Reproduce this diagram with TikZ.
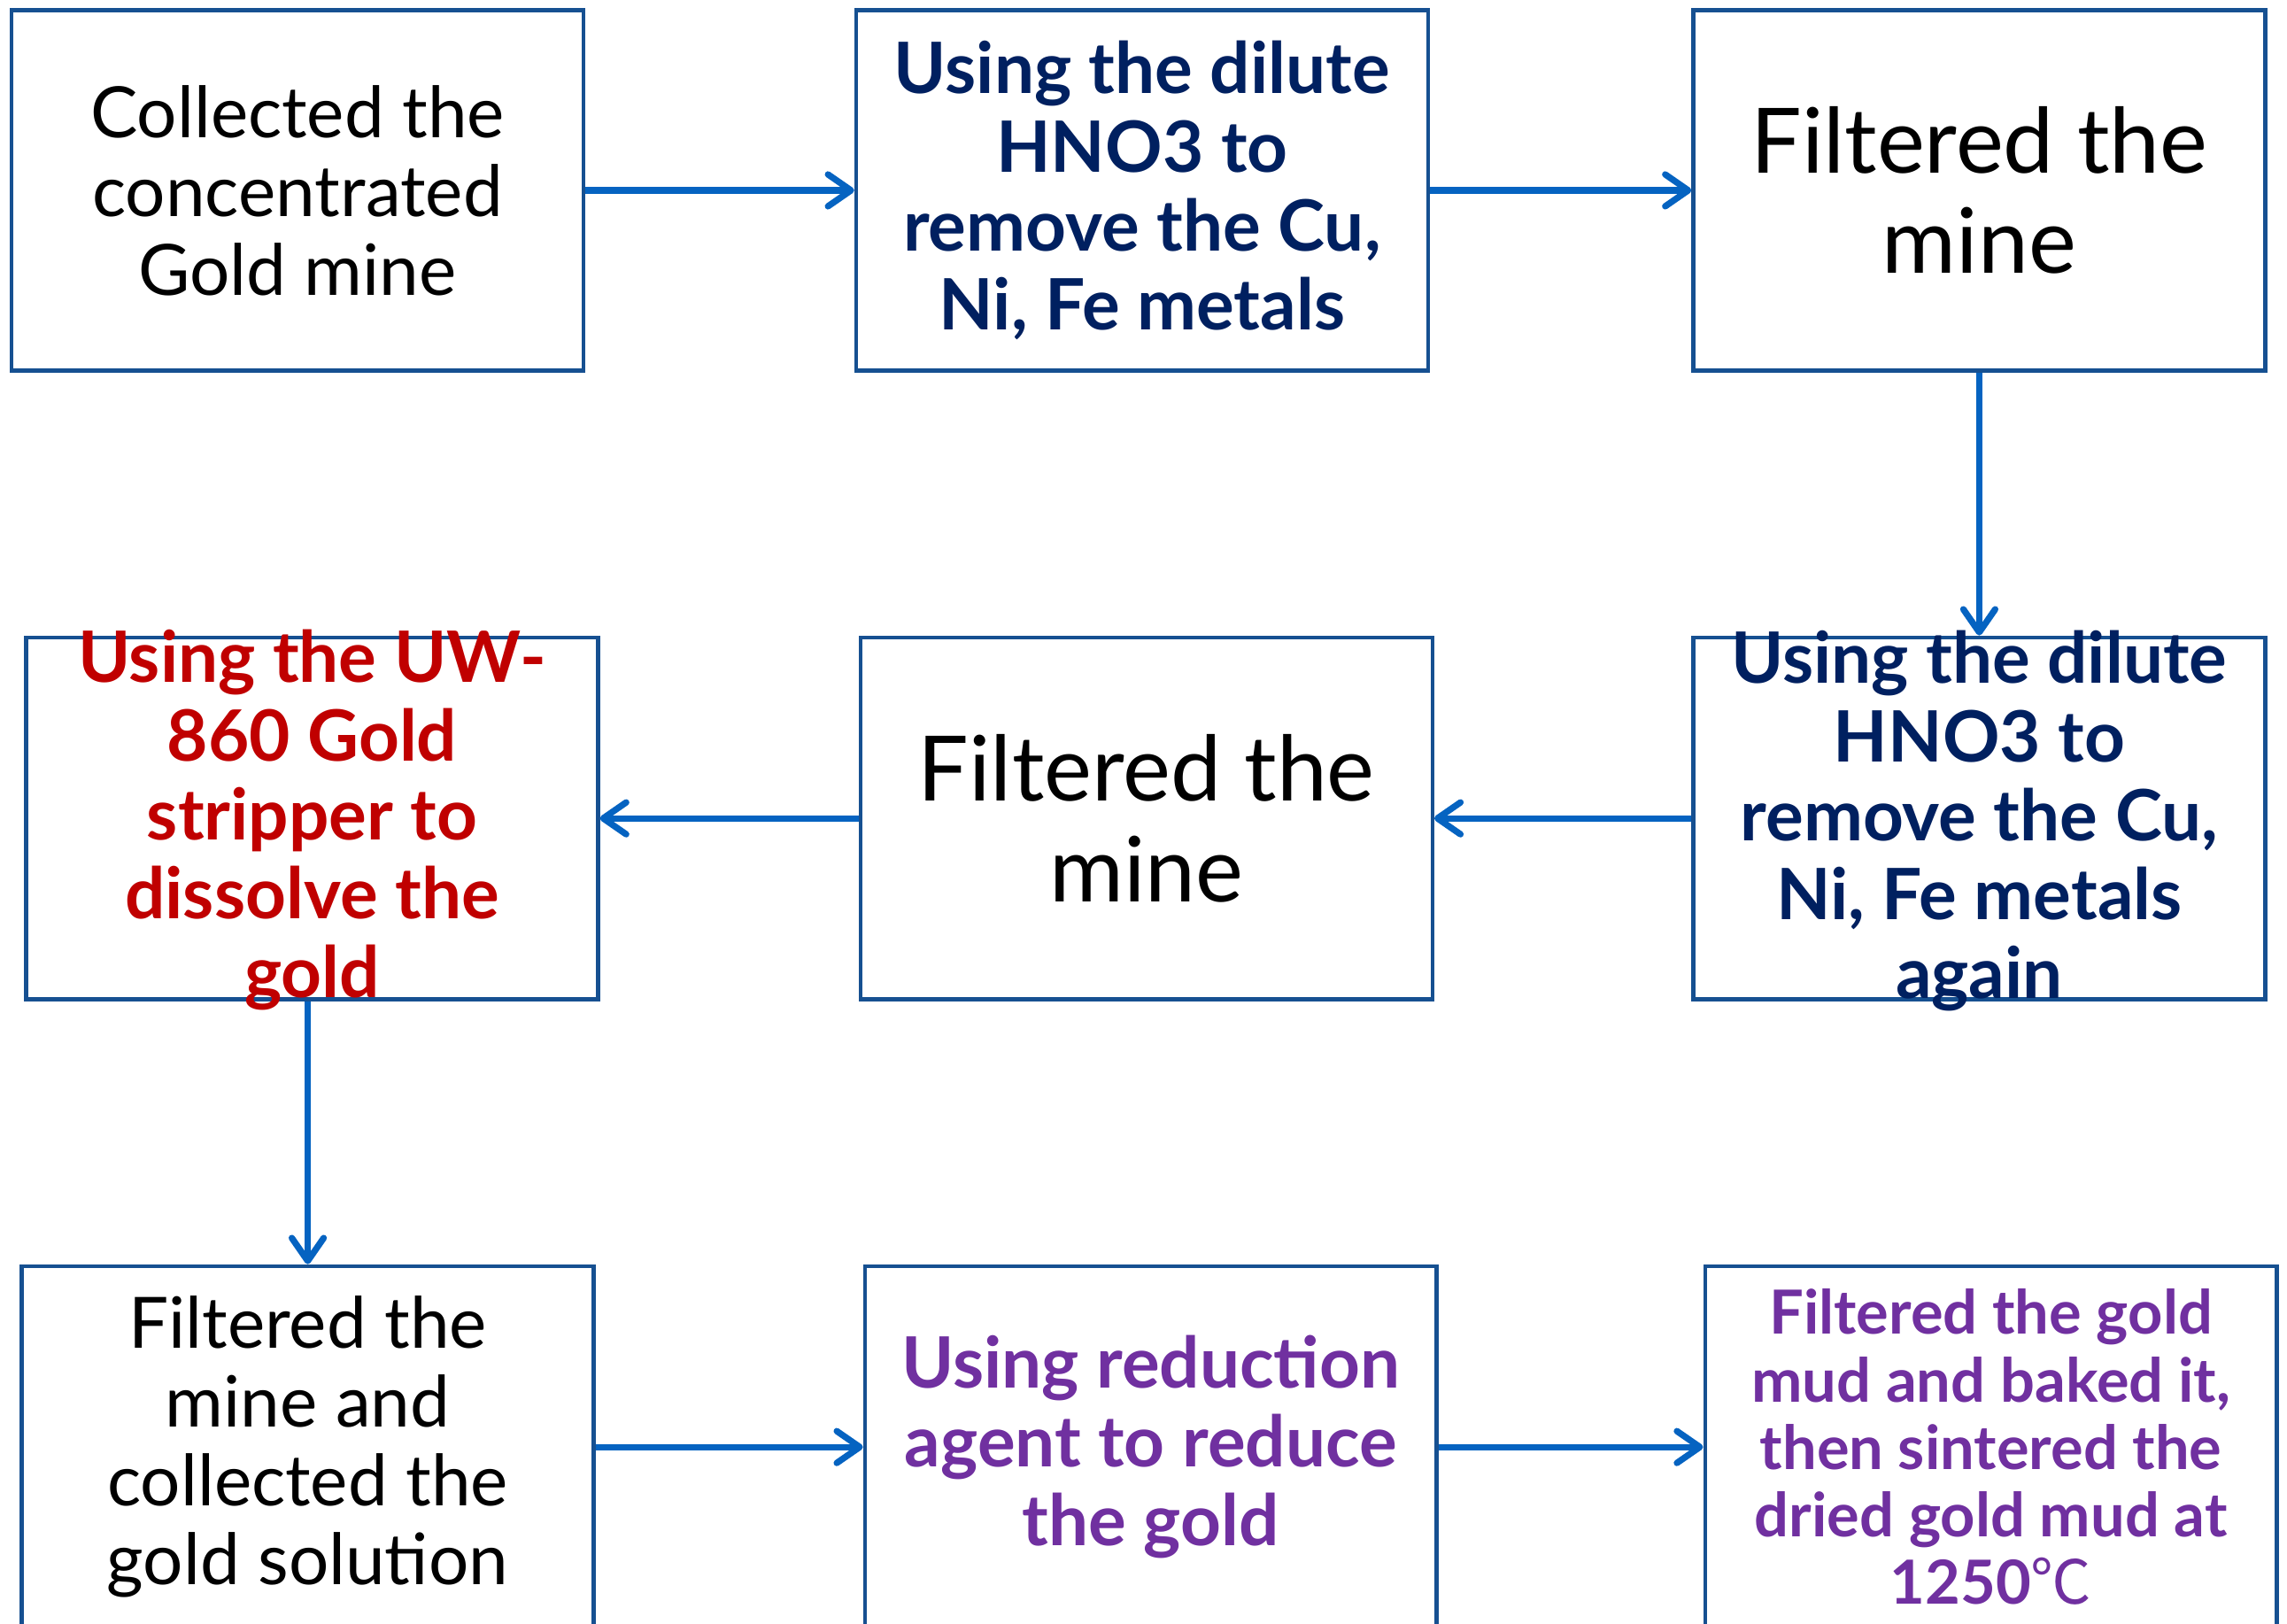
\documentclass[tikz,border=0pt]{standalone}
\usepackage{fontspec}
\setmainfont{Lato}
\newfontfamily\cjk{Noto Sans CJK SC}
\usetikzlibrary{arrows.meta}
\definecolor{boxline}{RGB}{22,80,145}
\definecolor{arrowc}{RGB}{5,99,193}
\definecolor{navy}{RGB}{0,32,96}
\definecolor{redt}{RGB}{192,0,0}
\definecolor{purp}{RGB}{112,48,160}
\tikzset{
  stepbox/.style={draw=boxline, line width=2.2pt, minimum width=322.9pt, minimum height=204.3pt, inner sep=0pt, fill=white},
  txt/.style={align=center, inner sep=0pt},
  normtxt/.style={txt, font=\fontsize{40}{44.5}\selectfont, text=black},
  bigtxt/.style={txt, font=\fontsize{51}{56.8}\selectfont, text=black},
  navytxt/.style={txt, font=\fontsize{40}{44.5}\selectfont\bfseries, text=navy},
  redtxt/.style={txt, font=\fontsize{40}{44.5}\selectfont\bfseries, text=redt},
  purptxt/.style={txt, font=\fontsize{34.3}{38.1}\selectfont\bfseries, text=purp},
  flow/.style={draw=arrowc, line width=3.6pt, -{Straight Barb[round, length=13pt, width=18pt, line width=3.6pt]}},
}
\begin{document}
\begin{tikzpicture}[x=0.82365pt, y=-0.82365pt]
\useasboundingbox (0,0) rectangle (1568,1113);
\clip (0,0) rectangle (1568,1113);
\fill[white] (0,0) rectangle (1568,1113);
% boxes
\node[stepbox, minimum height=203.4pt] (A) at (204,130.5) {};
\node[stepbox, minimum height=203.4pt] (B) at (783,130.5) {};
\node[stepbox, minimum height=203.4pt] (C) at (1357,130.5) {};
\node[stepbox] (D) at (214,561) {};
\node[stepbox] (E) at (786,561) {};
\node[stepbox] (F) at (1357,561) {};
\node[stepbox] (G) at (211,992) {};
\node[stepbox] (H) at (789,992) {};
\node[stepbox] (I) at (1365,992) {};
% texts
\node[normtxt] (tA) at (A) {Collected the\\concentrated\\Gold mine};
\node[navytxt] (tB) at (B) {Using the dilute\\HNO3 to\\remove the Cu,\\Ni, Fe metals};
\node[bigtxt] (tC) at (C) {Filtered the\\mine};
\node[navytxt] (tF) at (1357,563) {Using the dilute\\HNO3 to\\remove the Cu,\\Ni, Fe metals\\again};
\node[bigtxt] (tE) at (E) {Filtered the\\mine};
\node[redtxt] (tD) at (214,562) {Using the UW-\\860 Gold\\stripper to\\dissolve the\\gold};
\node[normtxt] (tG) at (G) {Filtered the\\mine and\\collected the\\gold solution};
\node[purptxt, font=\fontsize{40}{44.5}\selectfont\bfseries] (tH) at (H) {Using reduction\\agent to reduce\\the gold};
\node[purptxt] (tI) at (I) {Filtered the gold\\mud and baked it,\\then sintered the\\dried gold mud at\\1250{\cjk\mdseries ℃}};
% connectors
\draw[flow] (A.east) -- (B.west);
\draw[flow] (B.east) -- (C.west);
\draw[flow] (C.south) -- (F.north);
\draw[flow] (F.west) -- (E.east);
\draw[flow] (E.west) -- (D.east);
\draw[flow] (G.north |- D.south) -- (G.north);
\draw[flow] (G.east) -- (H.west);
\draw[flow] (H.east) -- (I.west);
\end{tikzpicture}
\end{document}
